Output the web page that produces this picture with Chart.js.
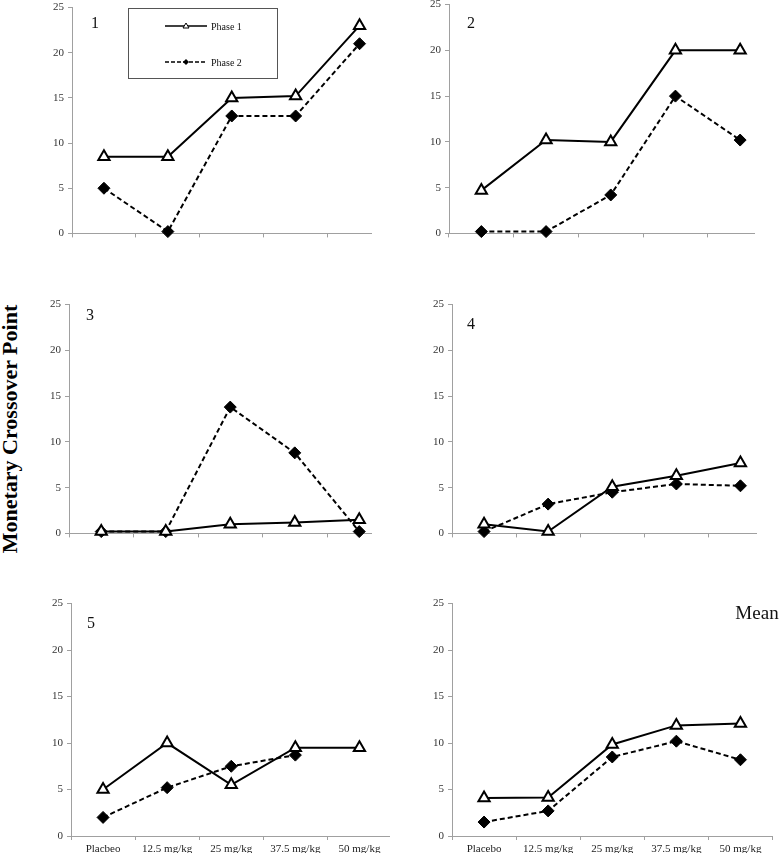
<!DOCTYPE html>
<html>
<head>
<meta charset="utf-8">
<script src="https://cdn.jsdelivr.net/npm/chart.js@4.4.1/dist/chart.umd.min.js"></script>
<style>
  html, body { margin: 0; padding: 0; background: #fff; }
  body { width: 781px; height: 853px; position: relative; overflow: hidden; font-family: "Liberation Serif", "Times New Roman", serif; }
  .panel { position: absolute; overflow: hidden; }
  .tag { position: absolute; color: #111; line-height: 1; }
  .ytitle { position: absolute; left: 10px; top: 429px; transform: translate(-50%, -50%) rotate(-90deg); white-space: nowrap; font-weight: bold; font-size: 22px; color: #000; }
  .legend { position: absolute; left: 128px; top: 8px; width: 148px; height: 69px; border: 1px solid #555; background: #fff; font-size: 10px; color: #111; }
  .legend .row { position: absolute; left: 36px; height: 14px; display: flex; align-items: center; }
  .legend svg { display: block; margin-right: 4px; }
</style>
</head>
<body>
<div class="ytitle">Monetary Crossover Point</div>

<script>
// doses on the x axis (subject 5's panel spells placebo as printed)
const doseLabels = ['Placebo', '12.5 mg/kg', '25 mg/kg', '37.5 mg/kg', '50 mg/kg'];
const doseLabelsS5 = ['Placbeo', '12.5 mg/kg', '25 mg/kg', '37.5 mg/kg', '50 mg/kg'];
const panelNames = ['1', '2', '3', '4', '5', 'Mean'];
const yTicks = [0, 5, 10, 15, 20, 25];

// crossover points, phase 1 / phase 2
const s1Phase1 = [8.5, 8.5, 15, 15.2, 23];
const s1Phase2 = [5, 0.2, 13, 13, 21];
const s2Phase1 = [4.7, 10.2, 10, 20, 20];
const s2Phase2 = [0.2, 0.2, 4.2, 15, 10.2];
const s3Phase1 = [0.2, 0.2, 1.0, 1.2, 1.5];
const s3Phase2 = [0.2, 0.2, 13.8, 8.8, 0.2];
const s4Phase1 = [1.0, 0.2, 5.1, 6.3, 7.7];
const s4Phase2 = [0.2, 3.2, 4.5, 5.4, 5.2];
const s5Phase1 = [5.0, 10.0, 5.5, 9.5, 9.5];
const s5Phase2 = [2.0, 5.2, 7.5, 8.7, null];
const meanPhase1 = [4.1, 4.15, 9.85, 11.9, 12.1];
const meanPhase2 = [1.5, 2.7, 8.5, 10.2, 8.2];

// layout of the six panels (page pixels)
const panels = [
  { col: 0,   axisX: 72,  top: 7,     bottom: 236,   right: 395.5, clip: 372, p1: s1Phase1, p2: s1Phase2, labels: null },
  { col: 390, axisX: 449, top: 3.6,   bottom: 235.7, right: 776.5, clip: 755, p1: s2Phase1, p2: s2Phase2, labels: null },
  { col: 0,   axisX: 69,  top: 304,   bottom: 535.7, right: 396.5, clip: 372, p1: s3Phase1, p2: s3Phase2, labels: null },
  { col: 390, axisX: 452, top: 304,   bottom: 535.7, right: 779,   clip: 757, p1: s4Phase1, p2: s4Phase2, labels: null },
  { col: 0,   axisX: 71,  top: 603.3, bottom: 836,   right: 400,   clip: 390, p1: s5Phase1, p2: s5Phase2, labels: doseLabelsS5 },
  { col: 390, axisX: 452, top: 603.3, bottom: 836,   right: 778,   clip: 781, p1: meanPhase1, p2: meanPhase2, labels: doseLabels }
];

const tags = [
  { x: 95,  y: 23,  size: 16 },
  { x: 471, y: 23,  size: 16 },
  { x: 90,  y: 315, size: 16 },
  { x: 471, y: 324, size: 16 },
  { x: 91,  y: 623, size: 16 },
  { x: 757, y: 612, size: 19 }
];

Chart.defaults.font.family = '"Liberation Serif", "Times New Roman", serif';
Chart.defaults.color = '#333';

const axisGray = '#a0a0a0';
const PAD_TOP = 10, Y_W = 30;

panels.forEach((p, i) => {
  const showLabels = !!p.labels;
  const xh = showLabels ? 26 : 6;
  const canvasW = p.col === 0 ? 400 : 391;
  const canvasH = Math.round(p.bottom - p.top) + PAD_TOP + xh + 2;

  const wrap = document.createElement('div');
  wrap.className = 'panel';
  wrap.style.left = p.col + 'px';
  wrap.style.top = (p.top - PAD_TOP) + 'px';
  wrap.style.width = (p.clip - p.col) + 'px';
  wrap.style.height = canvasH + 'px';
  const cv = document.createElement('canvas');
  cv.width = canvasW;
  cv.height = canvasH;
  cv.style.width = canvasW + 'px';
  cv.style.height = canvasH + 'px';
  wrap.appendChild(cv);
  document.body.appendChild(wrap);

  new Chart(cv.getContext('2d'), {
    type: 'line',
    data: {
      labels: p.labels || doseLabels,
      datasets: [
        {
          label: 'Phase 1',
          data: p.p1,
          borderColor: '#000',
          borderWidth: 2,
          pointStyle: 'triangle',
          pointRadius: 6.5,
          pointBackgroundColor: '#fff',
          pointBorderColor: '#000',
          pointBorderWidth: 2,
          clip: false
        },
        {
          label: 'Phase 2',
          data: p.p2,
          borderColor: '#000',
          borderWidth: 2,
          borderDash: [5, 3],
          pointStyle: 'rectRot',
          pointRadius: 6,
          pointBackgroundColor: '#000',
          pointBorderColor: '#000',
          pointBorderWidth: 1,
          spanGaps: false,
          clip: false
        }
      ]
    },
    options: {
      responsive: false,
      animation: false,
      devicePixelRatio: 1,
      layout: {
        padding: {
          left: p.axisX - p.col - Y_W,
          right: canvasW + p.col - p.right,
          top: PAD_TOP,
          bottom: 2
        }
      },
      plugins: { legend: { display: false }, tooltip: { enabled: false } },
      scales: {
        x: {
          type: 'category',
          offset: true,
          grid: { offset: true, drawOnChartArea: false, drawTicks: true, tickLength: 4, color: axisGray },
          border: { color: axisGray, width: 1 },
          ticks: { display: showLabels, font: { size: 11 }, color: '#222', padding: 3, maxRotation: 0, autoSkip: false },
          afterFit: (s) => { s.height = xh; }
        },
        y: {
          min: 0,
          max: 25,
          afterBuildTicks: (s) => { s.ticks = yTicks.map(v => ({ value: v })); },
          grid: { drawOnChartArea: false, drawTicks: true, tickLength: 4, color: axisGray },
          border: { color: axisGray, width: 1 },
          ticks: { font: { size: 11 }, color: '#333', padding: 4 },
          afterFit: (s) => { s.width = Y_W; }
        }
      }
    }
  });

  const t = document.createElement('div');
  t.className = 'tag';
  t.textContent = panelNames[i];
  t.style.fontSize = tags[i].size + 'px';
  t.style.left = tags[i].x + 'px';
  t.style.top = tags[i].y + 'px';
  t.style.transform = 'translate(-50%, -50%)';
  document.body.appendChild(t);
});

// legend box in panel 1
const legend = document.createElement('div');
legend.className = 'legend';
legend.innerHTML =
  '<div class="row" style="top:10px">' +
  '<svg width="42" height="10"><line x1="0" y1="5" x2="42" y2="5" stroke="#000" stroke-width="1.5"/>' +
  '<polygon points="21,2 24,7 18,7" fill="#fff" stroke="#000" stroke-width="1"/></svg>' +
  '<span>Phase 1</span></div>' +
  '<div class="row" style="top:46px">' +
  '<svg width="42" height="10"><line x1="0" y1="5" x2="42" y2="5" stroke="#000" stroke-width="1.5" stroke-dasharray="4,2"/>' +
  '<polygon points="21,2 24,5 21,8 18,5" fill="#000"/></svg>' +
  '<span>Phase 2</span></div>';
document.body.appendChild(legend);
</script>
</body>
</html>
